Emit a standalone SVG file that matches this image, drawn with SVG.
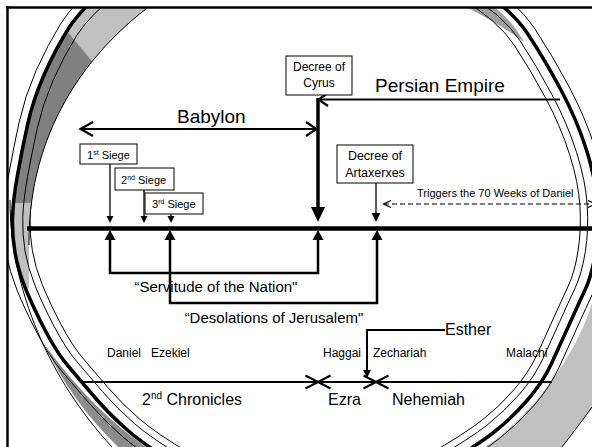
<svg xmlns="http://www.w3.org/2000/svg" xmlns:xlink="http://www.w3.org/1999/xlink" width="592" height="447" viewBox="0 0 592 447">
<defs>
<style>
.t{font-family:"Liberation Sans",Arial,sans-serif;fill:#000}
.box{fill:#fff;stroke:#000;stroke-width:1}
.ln{fill:none;stroke:#000}
.ah{fill:#000;stroke:none}
</style>
<clipPath id="frameClip"><rect x="7" y="7" width="585" height="440"/></clipPath>
<clipPath id="darkClip"><polygon points="0,22 62,25 95,65 95,203 0,203"/></clipPath>
<path id="ringT" vector-effect="non-scaling-stroke" d="M225,-57.5 Q300,-70 365,-55 Q430,-40 470,-16.5 Q510,7 527.5,33.5 Q545,60 561,90 Q577,120 586.5,150 Q596,180 597.5,205 Q599,230 595.5,252.5 Q592,275 585,290 Q578,305 569,325 Q560,345 551.5,363.5 Q543,382 527.5,400 Q512,418 493.5,432.5 Q475,447 437.5,468.5 Q400,490 355,497.5 Q310,505 265,497.5 Q220,490 183.5,468.5 Q147,447 128.5,431 Q110,415 95,397.5 Q80,380 68.5,366.5 Q57,353 45,330 Q33,307 25.5,288.5 Q18,270 15,252.5 Q12,235 12.5,217.5 Q13,200 17.5,175 Q22,150 27.5,125 Q33,100 44,75 Q55,50 68.5,28.5 Q82,7 116,-19 Q150,-45 225,-57.5 Z"/>
<path id="band" d="M116,-19 Q82,7 68.5,28.5 Q55,50 44,75 Q33,100 27.5,125 Q22,150 17.5,175 Q13,200 12.5,217.5 Q12,235 15,252.5 Q18,270 25.5,288.5 L29,288 L29,245 C28,150 70,60 165,-5 Z"/>
</defs>

<g id="ring" clip-path="url(#frameClip)">
<path d="M592,303 C580,345 540,410 485,447 L562,447 C575,430 585,417 592,407 Z" fill="#c0c0c0"/>
<path d="M45,345 Q92,410 146,447 L118,447 Q70,400 45,345 Z" fill="#8c8c8c"/>
<path d="M466,7 L494,7 Q512,20 524,42 Q500,24 466,7 Z" fill="#a0a0a0"/>
<use xlink:href="#ringT" transform="translate(305 225) scale(0.94) translate(-305 -225)" fill="none" stroke="#000" stroke-width="1"/>
<use xlink:href="#band" fill="#c0c0c0"/>
<use xlink:href="#band" fill="#808080" clip-path="url(#darkClip)"/>
<path d="M29,245 C28,150 70,60 165,-5" class="ln" stroke-width="1"/>
<use xlink:href="#ringT" transform="translate(305 225) scale(0.965) translate(-305 -225)" fill="none" stroke="#000" stroke-width="1"/>
<use xlink:href="#ringT" transform="translate(305 225) scale(1.03) translate(-305 -225)" fill="none" stroke="#000" stroke-width="1"/>
<use xlink:href="#ringT" fill="none" stroke="#000" stroke-width="3.5"/>
<path d="M10,200 C10,290 50,380 112,447" class="ln" stroke-width="1"/>
<path d="M562,447 C575,430 585,417 592,407" class="ln" stroke-width="1"/>
</g>

<g id="frame">
<line x1="6" y1="7.5" x2="592" y2="7.5" class="ln" stroke-width="2.5"/>
<line x1="7.5" y1="6" x2="7.5" y2="447" class="ln" stroke-width="2.5"/>
</g>

<g id="connectors">
<line x1="27" y1="228.5" x2="592" y2="228.5" class="ln" stroke-width="4.5"/>
<!-- Babylon -->
<line x1="80" y1="129" x2="317" y2="129" class="ln" stroke-width="2"/>
<polyline points="93,122 80.5,129 93,136" class="ln" stroke-width="2.2"/>
<polyline points="306,122 316.5,129 306,136" class="ln" stroke-width="2.2"/>
<!-- Persian -->
<line x1="318" y1="99.5" x2="560" y2="99.5" class="ln" stroke-width="2"/>
<polyline points="328,93 318.5,99.5 328,106" class="ln" stroke-width="2.2"/>
<!-- Cyrus vertical -->
<line x1="318" y1="98" x2="318" y2="208" class="ln" stroke-width="3.5"/>
<polygon points="311,207 325,207 318,222" class="ah"/>
<!-- Artaxerxes -->
<line x1="376" y1="183" x2="376" y2="214" class="ln" stroke-width="1.3"/>
<polygon points="371.5,213 380.5,213 376,222" class="ah"/>
<!-- dashed -->
<line x1="384" y1="204" x2="592" y2="204" class="ln" stroke-width="1.2" stroke-dasharray="5,3"/>
<polyline points="391,200.5 383.5,204 391,207.5" class="ln" stroke-width="1.2"/>
<polyline points="588,200.5 595.5,204 588,207.5" class="ln" stroke-width="1.2"/>
<!-- sieges -->
<line x1="110" y1="164" x2="110" y2="217" class="ln" stroke-width="1.3"/>
<polygon points="106.5,216 113.5,216 110,223" class="ah"/>
<line x1="144" y1="190" x2="144" y2="217" class="ln" stroke-width="1.3"/>
<polygon points="140.5,216 147.5,216 144,223" class="ah"/>
<line x1="171" y1="214" x2="171" y2="217" class="ln" stroke-width="1.3"/>
<polygon points="167.5,216 174.5,216 171,223" class="ah"/>
<!-- servitude bracket -->
<polyline points="110,239 110,273 318,273 318,239" class="ln" stroke-width="2.5"/>
<polygon points="104.5,240 115.5,240 110,230" class="ah"/>
<polygon points="312.5,240 323.5,240 318,230" class="ah"/>
<!-- desolations bracket -->
<polyline points="170,239 170,303 377,303 377,239" class="ln" stroke-width="2.5"/>
<polygon points="164.5,240 175.5,240 170,230" class="ah"/>
<polygon points="371.5,240 382.5,240 377,230" class="ah"/>
<!-- Esther -->
<polyline points="445,330 367,330 367,371" class="ln" stroke-width="2"/>
<polygon points="363,370 371,370 367,378" class="ah"/>
<!-- books line -->
<line x1="80" y1="382" x2="552" y2="382" class="ln" stroke-width="2"/>
<path d="M305.5,375.5 L330.5,388.5 M305.5,388.5 L330.5,375.5" class="ln" stroke-width="2"/>
<path d="M363.5,375.5 L388.5,388.5 M363.5,388.5 L388.5,375.5" class="ln" stroke-width="2"/>
</g>

<g id="babylon"><text class="t" x="177" y="123" font-size="19">Babylon</text></g>
<g id="persian"><text class="t" x="375" y="92" font-size="19">Persian Empire</text></g>

<g id="decree-cyrus">
<rect x="286" y="56" width="66" height="39" class="box"/>
<text class="t" x="319" y="71" font-size="12" text-anchor="middle">Decree of</text>
<text class="t" x="319" y="87" font-size="12" text-anchor="middle">Cyrus</text>
</g>

<g id="decree-artaxerxes">
<rect x="337" y="145" width="76" height="38" class="box"/>
<text class="t" x="375" y="160" font-size="12.5" text-anchor="middle">Decree of</text>
<text class="t" x="375" y="177" font-size="12.5" text-anchor="middle">Artaxerxes</text>
</g>

<g id="triggers"><text class="t" x="417" y="197" font-size="11">Triggers the 70 Weeks of Daniel</text></g>

<g id="siege1">
<rect x="80" y="144" width="57" height="20" class="box"/>
<text class="t" x="87" y="158.5" font-size="11">1<tspan font-size="7" dy="-4">st</tspan><tspan dy="4"> Siege</tspan></text>
</g>
<g id="siege2">
<rect x="115" y="168" width="59" height="22" class="box"/>
<text class="t" x="121" y="183.5" font-size="11">2<tspan font-size="7" dy="-4">nd</tspan><tspan dy="4"> Siege</tspan></text>
</g>
<g id="siege3">
<rect x="145" y="193" width="58" height="21" class="box"/>
<text class="t" x="152" y="207.5" font-size="11">3<tspan font-size="7" dy="-4">rd</tspan><tspan dy="4"> Siege</tspan></text>
</g>

<g id="servitude"><text class="t" x="216" y="292" font-size="15" text-anchor="middle">“Servitude of the Nation"</text></g>
<g id="desolations"><text class="t" x="274" y="323" font-size="15" text-anchor="middle">“Desolations of Jerusalem"</text></g>
<g id="esther"><text class="t" x="445" y="335" font-size="16">Esther</text></g>

<g id="prophets">
<text class="t" x="107" y="357" font-size="12">Daniel</text>
<text class="t" x="151" y="357" font-size="12">Ezekiel</text>
<text class="t" x="323" y="357" font-size="12">Haggai</text>
<text class="t" x="373" y="357" font-size="12">Zechariah</text>
<text class="t" x="506" y="357" font-size="12">Malachi</text>
</g>

<g id="books">
<text class="t" x="142" y="405" font-size="16">2<tspan font-size="10" dy="-6">nd</tspan><tspan dy="6"> Chronicles</tspan></text>
<text class="t" x="328" y="405" font-size="16">Ezra</text>
<text class="t" x="392" y="405" font-size="16">Nehemiah</text>
</g>
</svg>
